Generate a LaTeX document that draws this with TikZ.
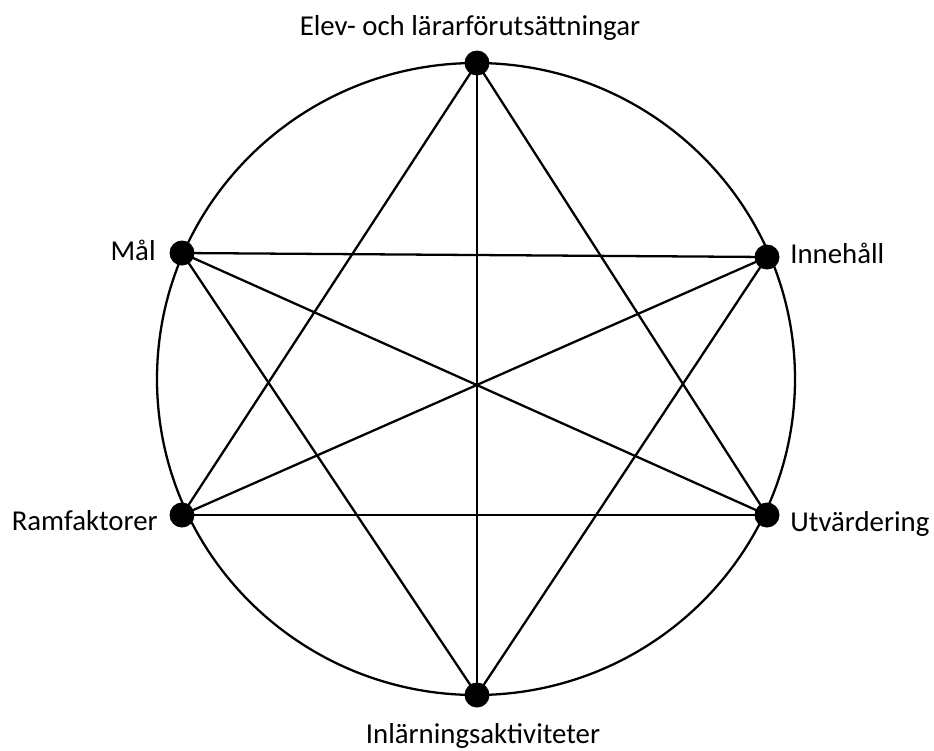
\documentclass[tikz,border=0pt]{standalone}
\usepackage{fontspec}
\setmainfont{Carlito}
\usepackage{tikz}
\usetikzlibrary{positioning,calc}

\begin{document}
\begin{tikzpicture}[x=0.02cm,y=-0.02cm,
    dot/.style={circle, fill=black, inner sep=0pt, minimum size=0.5cm},
    lbl/.style={inner sep=0pt, font=\fontsize{16.4}{19}\selectfont},
    link/.style={line width=1.3pt}]
    \useasboundingbox (0,0) rectangle (934,751);
    % ring
    \draw[link] (476,379) ellipse [x radius=319, y radius=316];
    % the six factors
    \node[dot] (elev) at (477,63) {};
    \node[dot] (mal) at (182,253) {};
    \node[dot] (inne) at (767,257) {};
    \node[dot] (ram) at (182,515) {};
    \node[dot] (utv) at (767,515) {};
    \node[dot] (inl) at (477,695) {};
    % labels
    \node[lbl, anchor=base] (elevtxt) at (470,35) {Elev- och lärarförutsättningar};
    \node[lbl, anchor=base east] (maltxt) at (156,260) {Mål};
    \node[lbl, anchor=base west] (innetxt) at (790,263) {Innehåll};
    \node[lbl, anchor=base east] (ramtxt) at (158,530) {Ramfaktorer};
    \node[lbl, anchor=base west] (utvtxt) at (790,531) {Utvärdering};
    \node[lbl, anchor=base] (inltxt) at (483,743) {Inlärningsaktiviteter};
    % every diagonal
    \foreach \a/\b in {elev/inl,elev/ram,elev/utv,mal/inne,mal/utv,mal/inl,inne/ram,inne/inl,ram/utv}
        \draw[link] (\a.center) -- (\b.center);
\end{tikzpicture}
\end{document}
